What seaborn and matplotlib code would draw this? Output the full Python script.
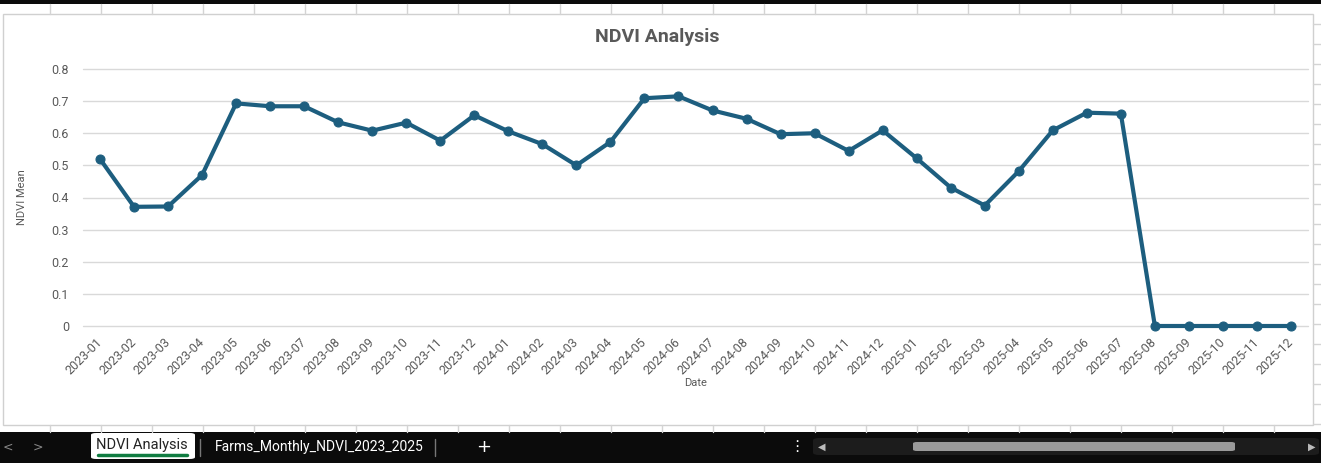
import pandas as pd
import matplotlib.pyplot as plt
import seaborn as sns
from matplotlib.patches import Rectangle, FancyBboxPatch
from matplotlib.lines import Line2D
from matplotlib.transforms import ScaledTranslation

months = ['2023-01', '2023-02', '2023-03', '2023-04', '2023-05', '2023-06',
          '2023-07', '2023-08', '2023-09', '2023-10', '2023-11', '2023-12',
          '2024-01', '2024-02', '2024-03', '2024-04', '2024-05', '2024-06',
          '2024-07', '2024-08', '2024-09', '2024-10', '2024-11', '2024-12',
          '2025-01', '2025-02', '2025-03', '2025-04', '2025-05', '2025-06',
          '2025-07', '2025-08', '2025-09', '2025-10', '2025-11', '2025-12']
ndvi_mean = [0.520, 0.371, 0.372, 0.470, 0.693, 0.684, 0.684, 0.634, 0.608,
             0.633, 0.577, 0.656, 0.606, 0.566, 0.500, 0.573, 0.709, 0.715,
             0.671, 0.645, 0.597, 0.600, 0.545, 0.609, 0.522, 0.431, 0.375,
             0.482, 0.609, 0.664, 0.661, 0.0, 0.0, 0.0, 0.0, 0.0]
y_ticks = [0, 0.1, 0.2, 0.3, 0.4, 0.5, 0.6, 0.7, 0.8]
tab_names = ['NDVI Analysis', 'Farms_Monthly_NDVI_2023_2025']

df = pd.DataFrame({'Date': months, 'NDVI Mean': ndvi_mean})

sns.set_style('white')
plt.rcParams['font.family'] = ['Roboto', 'DejaVu Sans']

W, H = 1321, 463
fig = plt.figure(figsize=(W / 100, H / 100), dpi=100, facecolor='white')

def fx(px):
    return px / W

def fy(py):
    return 1 - py / H

# spreadsheet chrome behind the chart
grid_c = '#d4d4d4'
for gx in range(50, W, 51):
    fig.add_artist(Line2D([fx(gx), fx(gx)], [fy(4), fy(14)], color=grid_c, lw=1))
    fig.add_artist(Line2D([fx(gx), fx(gx)], [fy(425), fy(432)], color=grid_c, lw=1))
for gy in range(24, 430, 20):
    fig.add_artist(Line2D([fx(1313), fx(W)], [fy(gy), fy(gy)], color=grid_c, lw=1))
fig.add_artist(Rectangle((0, fy(4)), 1, 4 / H, color='#0b0b0b', lw=0))
fig.add_artist(Rectangle((fx(3), fy(425)), fx(1310), 411 / H, facecolor='white',
                         edgecolor='#d0d0d0', lw=1))

ax = fig.add_axes([fx(83), fy(326), fx(1308 - 83), (326 - 69) / H])
ax.set_zorder(5)
ax.patch.set_alpha(0)
sns.lineplot(data=df, x='Date', y='NDVI Mean', ax=ax, sort=False,
             color='#1d5e7f', lw=3, marker='o', markersize=6.5,
             markeredgecolor='#1d5e7f', clip_on=False)

ax.set_xlim(-0.5, len(months) - 0.5)
ax.set_ylim(0, 0.8)
ax.set_yticks(y_ticks)
ax.set_yticklabels([f'{v:g}' for v in y_ticks])
ax.yaxis.grid(True, color='#d9d9d9', lw=1)
for gl in ax.get_ygridlines():
    gl.set_clip_on(False)
ax.set_axisbelow(True)
for s in ax.spines.values():
    s.set_visible(False)
ax.tick_params(axis='both', length=0, colors='#595959', labelsize=9)
ax.tick_params(axis='y', pad=10)
ax.set_xticks(range(len(months)))
ax.set_xticklabels(months, rotation=45, ha='right', va='center',
                   rotation_mode='anchor')
off = ScaledTranslation(5 / 100, 0, fig.dpi_scale_trans)
for lab in ax.get_xticklabels():
    lab.set_transform(lab.get_transform() + off)
ax.tick_params(axis='x', pad=10)

ax.set_xlabel('Date', fontsize=8, color='#595959', labelpad=1)
ax.set_ylabel('NDVI Mean', fontsize=8, color='#595959', labelpad=18)
fig.text(fx(657), fy(37), 'NDVI Analysis', ha='center', va='center',
         fontsize=14, fontweight='bold', color='#595959')

# sheet tab bar
fig.add_artist(Rectangle((0, 0), 1, 31 / H, color='#0b0b0b', lw=0))
fig.add_artist(FancyBboxPatch((fx(91), fy(459)), fx(104), 26 / H,
                              boxstyle='round,pad=0,rounding_size=0.004',
                              facecolor='white', edgecolor='none'))
fig.add_artist(Line2D([fx(98), fx(187)], [fy(455), fy(455)], color='#107c41', lw=2.5))
fig.text(fx(142), fy(445), tab_names[0], ha='center', va='center',
         fontsize=10.5, color='#222222')
fig.text(fx(215), fy(447), tab_names[1], ha='left', va='center',
         fontsize=10, color='white')
for sx in (200, 435):
    fig.add_artist(Line2D([fx(sx), fx(sx)], [fy(439), fy(456)], color='#777777', lw=1))
fig.text(fx(484), fy(447), '+', ha='center', va='center', fontsize=13,
         color='white', family='DejaVu Sans')
fig.text(fx(8), fy(447), '<', ha='center', va='center', fontsize=9,
         color='#888888', family='DejaVu Sans')
fig.text(fx(38), fy(447), '>', ha='center', va='center', fontsize=9,
         color='#888888', family='DejaVu Sans')
fig.text(fx(797), fy(447), '\u22ee', ha='center', va='center', fontsize=11,
         color='white', family='DejaVu Sans')
fig.add_artist(FancyBboxPatch((fx(813), fy(455)), fx(506), 17 / H,
                              boxstyle='round,pad=0,rounding_size=0.005',
                              facecolor='#1c1c1c', edgecolor='none'))
fig.add_artist(FancyBboxPatch((fx(913), fy(451)), fx(322), 9 / H,
                              boxstyle='round,pad=0,rounding_size=0.003',
                              facecolor='#9a9a9a', edgecolor='none'))
fig.text(fx(822), fy(447), '\u25c0', ha='center', va='center', fontsize=7,
         color='#bbbbbb', family='DejaVu Sans')
fig.text(fx(1312), fy(447), '\u25b6', ha='center', va='center', fontsize=7,
         color='#bbbbbb', family='DejaVu Sans')

fig.savefig('out.png', dpi=100)
